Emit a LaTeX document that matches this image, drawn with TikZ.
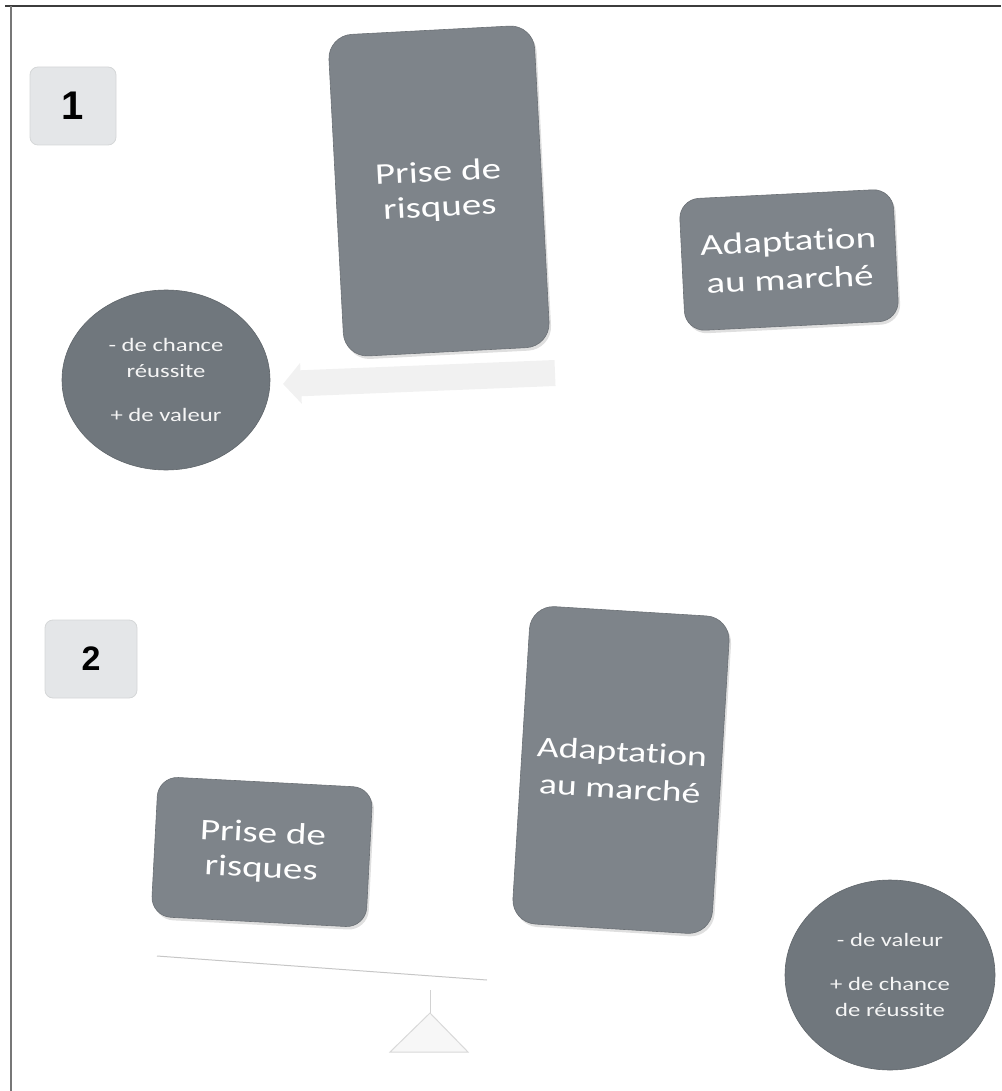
\documentclass[tikz,border=0pt]{standalone}
\usepackage{fontspec}
\usetikzlibrary{shapes.geometric,arrows.meta,shadows}
\newfontfamily\boxfont[FakeStretch=1.3, Ligatures=NoCommon]{Carlito}
\newfontfamily\badgefont{Liberation Sans}
\definecolor{boxgray}{RGB}{126,132,138}
\definecolor{circgray}{RGB}{112,119,125}
\definecolor{badgegray}{RGB}{228,230,232}
\definecolor{framegray}{RGB}{60,60,60}
\tikzset{
  card/.style={rectangle, rounded corners=24pt, fill=boxgray, draw=boxgray!85!black,
    line width=0.6pt, text=white, align=center, inner sep=0pt,
    font=\boxfont\fontsize{30}{35}\selectfont,
    drop shadow={opacity=0.25, shadow xshift=2pt, shadow yshift=-3pt}},
  bubble/.style={ellipse, fill=circgray, draw=circgray!85!black, line width=0.6pt,
    text=white!92!gray, align=center, inner sep=0pt,
    font=\boxfont\fontsize{19}{26}\selectfont},
  badge/.style={rectangle, rounded corners=8pt, fill=badgegray, draw=badgegray!85!gray,
    line width=0.8pt, inner sep=0pt, font=\badgefont\bfseries},
  fadedarrow/.style={line width=26pt, draw=gray!11,
    -{Triangle[width=40pt,length=18pt]}},
  scaleline/.style={draw=gray!45, line width=1pt}
}
\begin{document}
\begin{tikzpicture}[x=1pt,y=-1pt]
\useasboundingbox (0,0) rectangle (1001,1091);
% frame edges
\draw[framegray, line width=1.6pt] (5,6) -- (1001,6);
\draw[framegray!70, line width=1.6pt] (11,6) -- (11,1091);

% ---------- panel 1 ----------
\node[badge, minimum width=86pt, minimum height=78pt, font=\badgefont\bfseries\fontsize{40}{40}\selectfont] (n1) at (73,106) {1};
\node[card, rotate=3, minimum width=206pt, minimum height=322pt] (risk1) at (439,191) {Prise de\\risques};
\node[card, rotate=2.8, rounded corners=20pt, minimum width=214pt, minimum height=132pt,
  font=\boxfont\fontsize{30}{38}\selectfont] (adapt1) at (789,260) {Adaptation\\au marché};
\node[bubble, minimum width=208pt, minimum height=180pt] (res1) at (166,380)
  {- de chance\\réussite\\[18pt]+ de valeur};
% faint pointer under the card
\coordinate (p1s) at (555,373);
\coordinate (p1e) at (283,384);
\draw[fadedarrow] (p1s) -- (p1e);

% ---------- panel 2 ----------
\node[badge, minimum width=92pt, minimum height=78pt, font=\badgefont\bfseries\fontsize{34}{34}\selectfont] (n2) at (91,659) {2};
\node[card, rotate=-3.5, minimum width=200pt, minimum height=318pt,
  font=\boxfont\fontsize{29}{37}\selectfont] (adapt2) at (621,770) {Adaptation\\au marché};
\node[card, rotate=-3, rounded corners=20pt, minimum width=215pt, minimum height=140pt] (risk2) at (262,852) {Prise de\\risques};
\node[bubble, minimum width=210pt, minimum height=190pt] (res2) at (890,975)
  {- de valeur\\[18pt]+ de chance\\de réussite};
% faint balance beam and fulcrum
\coordinate (b1) at (157,956);
\coordinate (b2) at (487,980);
\coordinate (f0) at (430,990);
\coordinate (f1) at (430,1013);
\coordinate (fl) at (390,1052);
\coordinate (fr) at (468,1052);
\draw[scaleline] (b1) -- (b2);
\draw[scaleline, draw=gray!35] (f0) -- (f1);
\draw[scaleline, draw=gray!30, fill=gray!6] (f1) -- (fr) -- (fl) -- cycle;
\end{tikzpicture}
\end{document}
